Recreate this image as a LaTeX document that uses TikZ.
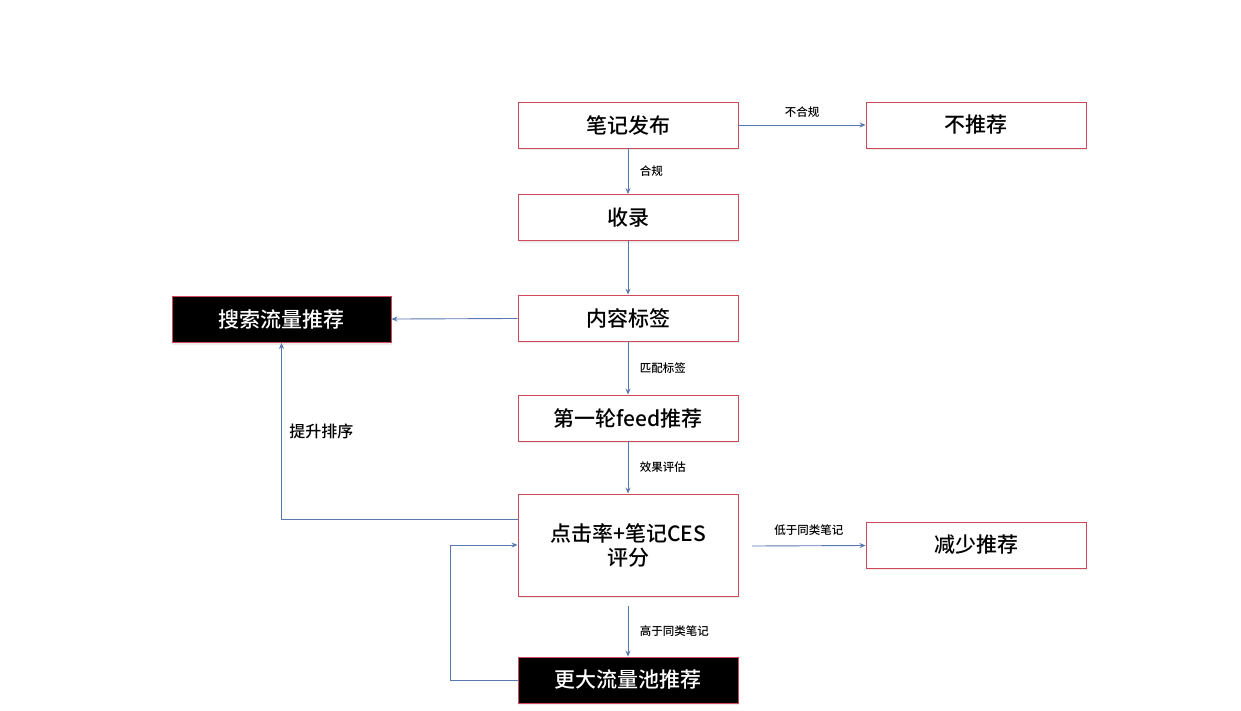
\documentclass[tikz,border=0pt]{standalone}
\usepackage{fontspec}
\setmainfont{Noto Sans CJK SC}[BoldFont={Noto Sans CJK SC Medium}]
\usetikzlibrary{arrows.meta,shadows}
\definecolor{bred}{HTML}{D0485A}
\definecolor{arr}{HTML}{5A78B0}
\begin{document}
\begin{tikzpicture}[x=1pt,y=-1pt,
  wbox/.style={draw=bred,line width=0.9pt,fill=white,minimum width=220pt,minimum height=46pt,inner sep=0pt,font=\fontsize{21}{24}\selectfont\bfseries,align=center,drop shadow={shadow xshift=1pt,shadow yshift=-2pt,opacity=0.15}},
  bbox/.style={wbox,fill=black,text=white,draw=bred},
  con/.style={draw=arr,line width=0.9pt,-{Stealth[length=6pt,width=5pt]}},
  lab/.style={font=\fontsize{11.5}{13}\selectfont\bfseries,text=black}]
\useasboundingbox (0,0) rectangle (1241,710);
\node[wbox] (pub) at (628,125) {笔记发布};
\node[wbox] (no) at (976,125) {不推荐};
\node[wbox] (inc) at (628,217.5) {收录};
\node[wbox] (tag) at (628,318) {内容标签};
\node[bbox,minimum width=219pt] (search) at (281.5,319.5) {搜索流量推荐};
\node[wbox] (feed) at (628,418) {第一轮feed推荐};
\node[wbox,minimum height=102pt] (ces) at (628,545) {点击率+笔记CES\\评分};
\node[wbox] (less) at (976,545) {减少推荐};
\node[bbox] (big) at (628,680) {更大流量池推荐};
\draw[con] (pub) -- node[lab,above=4pt,pos=0.5]{不合规} (no);
\draw[con] (pub) -- node[lab,right=8pt]{合规} (inc);
\draw[con] (inc) -- (tag);
\draw[con] (tag) -- (search);
\draw[con] (tag) -- node[lab,right=8pt]{匹配标签} (feed);
\draw[con] (feed) -- node[lab,right=8pt]{效果评估} (ces);
\draw[con] (ces.west |- 0,519) -| node[lab,pos=0.75,right=4pt,font=\fontsize{16}{18}\selectfont\bfseries]{提升排序} (search.south);
\coordinate (c1) at (752,546);
\draw[con] (c1) -- node[lab,above=6pt]{低于同类笔记} (less);
\coordinate (c2) at (628,606);
\draw[con] (c2) -- node[lab,right=8pt]{高于同类笔记} (big);
\draw[con] (big.west) -| (450,545) -- (ces.west |- 0,545);
\end{tikzpicture}
\end{document}
